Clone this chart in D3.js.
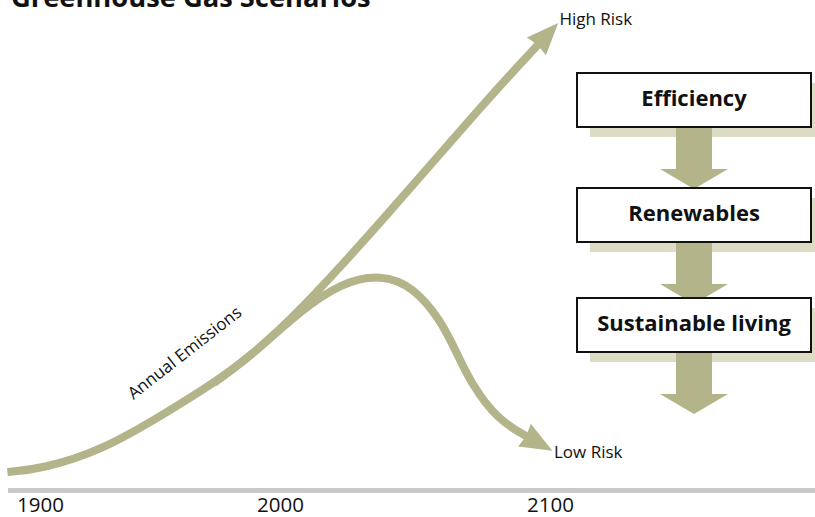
<!DOCTYPE html>
<html>
<head>
<meta charset="utf-8">
<script src="https://cdn.jsdelivr.net/npm/d3@7"></script>
<style>
  html, body { margin: 0; padding: 0; background: #fff; }
  svg { display: block; }
  text { font-family: "Open Sans", "DejaVu Sans", sans-serif; fill: #111; }
</style>
</head>
<body>
<svg id="chart" width="815" height="517"></svg>
<script>
// Annual emissions history (year, index) up to the branch point
const historyYears  = [1896, 1910, 1935, 1962, 1982, 1997, 2016];
const historyValues = [0.8, 1.1, 2.9, 6.7, 9.7, 12.3, 16.9];

// High-risk scenario continues rising
const highYears  = [2016, 2046, 2085, 2105];
const highValues = [16.9, 25.8, 38.0, 43.8];

// Low-risk scenario peaks and declines
const lowYears  = [2016, 2031, 2046, 2058, 2068, 2074, 2079, 2089, 2101];
const lowValues = [16.9, 19.7, 20.6, 19.3, 16.0, 12.7, 9.8, 6.0, 4.2];

const tickYears = [1900, 2000, 2100];
const seriesLabels = ["Annual Emissions", "High Risk", "Low Risk"];
const steps = ["Efficiency", "Renewables", "Sustainable living"];
const title = "Greenhouse Gas Scenarios";

const lineColor = "#b3b48a";
const shadowColor = "#dcdcc4";

const svg = d3.select("#chart");

// Scales: time axis is drawn with a wider second century
const x = d3.scaleLinear().domain([1900, 2000, 2100]).range([17, 257, 527]);
const y = d3.scaleLinear().domain([0, 46]).range([480, 20]);

const zip = (a, b) => a.map((d, i) => [d, b[i]]);

// Title
svg.append("text")
  .attr("x", 11).attr("y", 7)
  .attr("font-size", 27.3).attr("font-weight", 700)
  .text(title);

// Arrowhead marker
const defs = svg.append("defs");
defs.append("marker")
  .attr("id", "head")
  .attr("markerUnits", "userSpaceOnUse")
  .attr("viewBox", "-4 -16 40 32")
  .attr("markerWidth", 40).attr("markerHeight", 32)
  .attr("refX", 4).attr("refY", 0)
  .attr("orient", "auto")
  .append("path")
  .attr("d", "M0,0 L-2,-13 L30,0 L-2,13 Z")
  .attr("fill", lineColor);

const line = d3.line()
  .x(d => x(d[0])).y(d => y(d[1]))
  .curve(d3.curveBasis);

const g = svg.append("g")
  .attr("fill", "none")
  .attr("stroke", lineColor)
  .attr("stroke-width", 8)
  .attr("stroke-linecap", "butt");

// History + branches, each branch joined to the history trunk
const trunk = zip(historyYears, historyValues);
g.append("path").attr("d", line(trunk.concat(zip(highYears, highValues).slice(1))))
  .attr("marker-end", "url(#head)");
g.append("path").attr("d", line(trunk.slice(-3).concat(zip(lowYears, lowValues).slice(1))))
  .attr("marker-end", "url(#head)");

// Series labels
svg.append("text")
  .attr("transform", `translate(${x(1948.5)},${y(8.0)}) rotate(-38)`)
  .attr("font-size", 17)
  .text(seriesLabels[0]);
svg.append("text")
  .attr("x", x(2112)).attr("y", y(45.5))
  .attr("font-size", 17)
  .text(seriesLabels[1]);
svg.append("text")
  .attr("x", x(2110)).attr("y", y(2.2))
  .attr("font-size", 17)
  .text(seriesLabels[2]);

// Time axis
svg.append("rect")
  .attr("x", 8).attr("y", 488).attr("width", 807).attr("height", 5)
  .attr("fill", "#c8c8c8");
svg.selectAll(".tick-label").data(tickYears).join("text")
  .attr("class", "tick-label")
  .attr("x", d => x(d)).attr("y", 512)
  .attr("font-size", 20.5)
  .text(d => d);

// Action steps with connecting arrows
const boxTops = d3.scaleOrdinal().domain(steps).range([73, 188, 298]);
const boxX = 577, boxW = 234, boxH = 54;
const cx = boxX + boxW / 2;

const step = svg.selectAll(".step").data(steps).join("g").attr("class", "step");

step.append("rect")
  .attr("x", boxX + 13).attr("y", d => boxTops(d) + 10)
  .attr("width", boxW + 20).attr("height", boxH)
  .attr("fill", shadowColor);

step.append("path")
  .attr("d", d => {
    const t = boxTops(d) + boxH;
    return `M${cx - 18},${t} H${cx + 18} V${t + 42} H${cx + 34} L${cx},${t + 62} L${cx - 34},${t + 42} H${cx - 18} Z`;
  })
  .attr("fill", lineColor);

step.append("rect")
  .attr("x", boxX).attr("y", d => boxTops(d))
  .attr("width", boxW).attr("height", boxH)
  .attr("fill", "#fff").attr("stroke", "#111").attr("stroke-width", 2);

step.append("text")
  .attr("x", cx).attr("y", d => boxTops(d) + boxH / 2 + 6)
  .attr("text-anchor", "middle")
  .attr("font-size", 22).attr("font-weight", 700)
  .text(d => d);
</script>
</body>
</html>
